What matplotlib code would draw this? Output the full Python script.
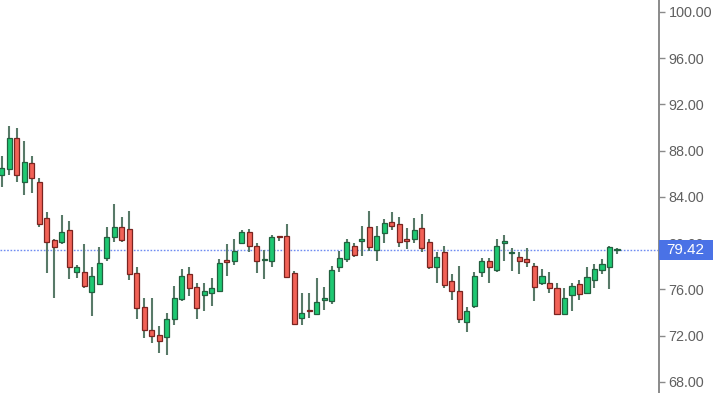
import matplotlib
matplotlib.use("Agg")
import matplotlib.pyplot as plt
import numpy as np
from matplotlib.patches import Rectangle

opens = [85.9, 86.4, 89.1, 85.3, 86.9, 85.3, 82.2, 80.3, 80.1, 81.1,
         77.5, 77.5, 75.8, 76.5, 78.7, 80.5, 81.4, 81.2, 77.4, 74.5,
         72.5, 72.1, 71.9, 73.4, 75.2, 77.3, 76.2, 75.5, 75.7, 75.9,
         78.5, 78.5, 80.0, 81.0, 79.8, 78.55, 78.5, 80.6, 80.6, 77.4,
         73.5, 74.2, 73.9, 75.1, 75.0, 77.9, 78.6, 79.8, 80.2, 81.4,
         79.4, 80.9, 81.8, 81.7, 80.4, 80.4, 81.3, 80.1, 77.9, 79.2,
         76.7, 75.9, 73.2, 74.6, 77.5, 78.5, 77.7, 80.0, 79.15, 78.8,
         78.6, 78.0, 76.6, 76.6, 76.1, 73.9, 75.5, 76.5, 75.7, 76.8,
         77.7, 77.9, 79.4]
closes = [86.5, 89.1, 85.9, 87.0, 85.6, 81.7, 80.1, 79.7, 81.0, 77.9,
          77.9, 76.3, 77.2, 78.3, 80.5, 81.4, 80.3, 77.3, 74.4, 72.5,
          72.0, 71.5, 73.4, 75.3, 77.2, 76.1, 74.4, 75.9, 76.1, 78.3,
          78.4, 79.3, 81.0, 79.8, 78.5, 78.65, 80.5, 80.5, 77.1, 73.0,
          74.0, 74.1, 74.9, 75.3, 77.7, 78.7, 80.1, 79.0, 80.4, 79.7,
          80.6, 81.75, 81.5, 80.1, 80.2, 81.1, 79.6, 77.9, 78.8, 76.4,
          75.9, 73.4, 74.1, 77.2, 78.5, 77.9, 79.8, 80.2, 79.25, 78.5,
          78.4, 76.2, 77.2, 76.1, 73.9, 75.3, 76.3, 75.6, 77.1, 77.8,
          78.2, 79.7, 79.42]
highs = [87.5, 90.1, 90.0, 88.8, 87.5, 85.6, 82.7, 80.4, 82.4, 81.9,
         78.1, 79.9, 77.9, 79.7, 81.4, 83.4, 82.3, 82.8, 77.9, 75.3,
         75.3, 72.8, 74.0, 76.3, 77.8, 77.9, 76.6, 76.6, 77.0, 78.6,
         79.9, 80.4, 81.1, 81.2, 80.0, 79.4, 80.7, 80.6, 81.7, 77.6,
         75.7, 75.7, 77.0, 76.2, 78.0, 79.3, 80.4, 80.0, 81.5, 82.8,
         81.5, 82.1, 82.7, 82.3, 81.3, 82.2, 82.5, 80.4, 79.2, 79.8,
         77.3, 78.0, 74.5, 77.5, 78.7, 78.7, 80.4, 80.7, 79.6, 79.2,
         79.6, 78.3, 77.8, 77.5, 76.6, 76.1, 76.6, 76.8, 77.9, 78.2,
         78.6, 79.8, 79.6]
lows = [84.9, 85.9, 85.3, 84.2, 84.3, 81.4, 77.4, 75.3, 79.9, 76.9,
        77.0, 76.1, 73.7, 76.4, 78.5, 80.1, 80.1, 76.8, 73.4, 71.8,
        71.4, 70.5, 70.3, 72.9, 75.0, 75.4, 73.4, 74.1, 74.6, 75.8,
        77.2, 78.1, 79.9, 79.2, 77.4, 76.9, 77.9, 80.2, 77.0, 72.9,
        72.9, 73.5, 73.8, 74.2, 74.7, 77.5, 78.4, 78.8, 78.9, 79.3,
        78.5, 80.0, 81.1, 79.7, 79.5, 80.0, 79.2, 77.8, 76.6, 76.1,
        75.1, 73.1, 72.3, 74.4, 77.1, 76.6, 77.5, 78.5, 77.6, 77.3,
        77.9, 75.0, 76.4, 75.7, 73.9, 73.9, 74.1, 75.1, 75.6, 76.1,
        77.3, 76.0, 79.1]

last_price = 79.42
tick_values = [68, 72, 76, 80, 84, 88, 92, 96, 100]

W, H = 713, 393
fig = plt.figure(figsize=(W / 100, H / 100), dpi=100)
axis_x = 659
ax = fig.add_axes([0, 0, axis_x / W, 1])

n = len(opens)
x = np.arange(n)
up_body = '#1ec872'
up_edge = '#22603f'
dn_body = '#f26257'
dn_edge = '#7a2420'
wick_col = '#587a68'

ax.vlines(x, lows, highs, color=wick_col, linewidth=1.5, zorder=2)
for i in range(n):
    o, c = opens[i], closes[i]
    up = c >= o
    bot = min(o, c)
    h = max(abs(c - o), 0.12)
    ax.bar(x[i], h, bottom=bot, width=0.68,
           color=up_body if up else dn_body,
           edgecolor=up_edge if up else dn_edge, linewidth=0.9, zorder=3)

ax.axhline(last_price, color='#6f8cf2', linewidth=1.0, linestyle=(0, (1.2, 1.2)), zorder=1)

ax.set_xlim(-0.23, 87.6)
ymin = 100 - (H - 12) / 11.56
ymax = 100 + 12 / 11.56
ax.set_ylim(ymin, ymax)

for s in ['top', 'left', 'bottom']:
    ax.spines[s].set_visible(False)
ax.spines['right'].set_color('#8a8a8a')
ax.spines['right'].set_linewidth(1.4)
ax.set_xticks([])
ax.yaxis.tick_right()
ax.set_yticks(tick_values)
ax.set_yticklabels([f"{v:.2f}" for v in tick_values],
                   fontsize=10.4, color='#606060', family='Liberation Sans')
ax.tick_params(axis='y', direction='out', length=4, width=1, color='#8a8a8a', pad=3)

# price label box (covers the 80.00 tick label, as in the original)
yfrac = (last_price - ymin) / (ymax - ymin)
box_h = 20 / H
fig.patches.append(Rectangle((axis_x / W, yfrac - box_h / 2), (W - axis_x) / W, box_h,
                             transform=fig.transFigure, facecolor='#4a72e6',
                             edgecolor='none', zorder=5))
fig.text((axis_x + 7) / W, yfrac, f"{last_price:.2f}", color='white', fontsize=11,
         family='Liberation Sans', va='center', ha='left', zorder=6)

fig.savefig('out.png', dpi=100)
